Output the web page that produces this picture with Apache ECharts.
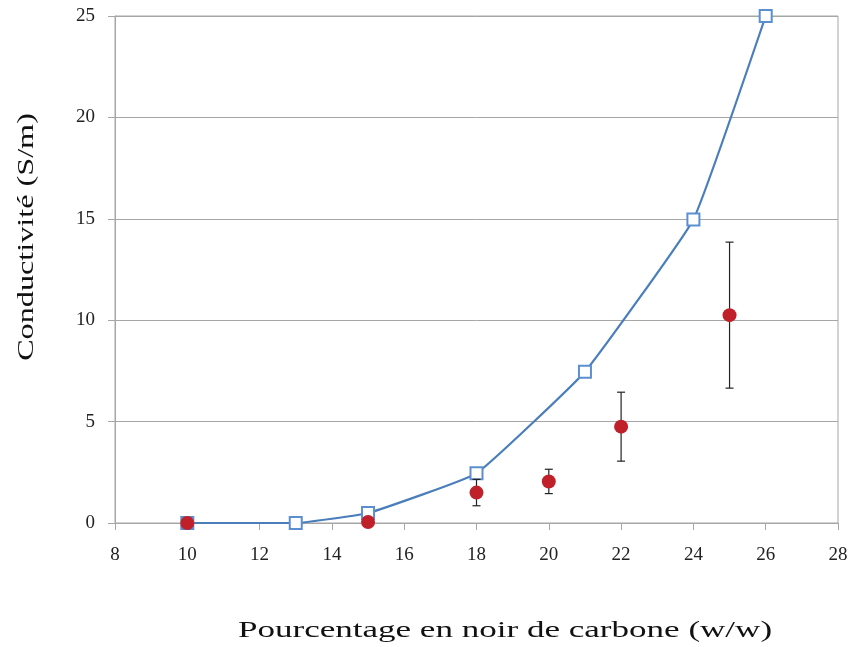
<!DOCTYPE html>
<html>
<head>
<meta charset="utf-8">
<script src="https://cdn.jsdelivr.net/npm/echarts@6/dist/echarts.min.js"></script>
<style>
  html, body { margin: 0; padding: 0; background: #fff; }
  #main { width: 852px; height: 647px; }
</style>
</head>
<body>
<div id="main"></div>
<script>
// modele (courbe bleue)
const modelX = [10, 13, 15, 18, 21, 24, 26];
const modelY = [0, 0, 0.49, 2.45, 7.46, 14.97, 25];
// mesures (points rouges) + ecart type
const measX = [10, 15, 18, 20, 22, 25];
const measY = [0, 0.05, 1.5, 2.05, 4.75, 10.25];
const measErr = [0, 0, 0.65, 0.6, 1.7, 3.6];

const xTicks = { min: 8, max: 28, step: 2 };
const yTicks = { min: 0, max: 25, step: 5 };

const serif = '"Liberation Serif", "DejaVu Serif", serif';

let myChart = echarts.init(document.getElementById('main'));

myChart.setOption({
  animation: false,
  grid: {
    left: 115, right: 14, top: 16, bottom: 124,
    show: true, borderColor: '#a6a6a6', borderWidth: 1
  },
  xAxis: {
    type: 'value',
    min: xTicks.min, max: xTicks.max, interval: xTicks.step,
    axisLine: { lineStyle: { color: '#a6a6a6' } },
    axisTick: { show: true, length: 7, lineStyle: { color: '#a6a6a6' } },
    splitLine: { show: false },
    axisLabel: { color: '#222', fontFamily: serif, fontSize: 19, margin: 23 }
  },
  yAxis: {
    type: 'value',
    min: yTicks.min, max: yTicks.max, interval: yTicks.step,
    axisLine: { show: true, lineStyle: { color: '#a6a6a6' } },
    axisTick: { show: true, length: 7, lineStyle: { color: '#a6a6a6' } },
    splitLine: { show: true, lineStyle: { color: '#a6a6a6', width: 1 } },
    axisLabel: { color: '#222', fontFamily: serif, fontSize: 19, margin: 20 }
  },
  graphic: [
    {
      type: 'text',
      x: 505, y: 631,
      scaleX: 1.46,
      style: {
        text: 'Pourcentage en noir de carbone (w/w)',
        font: '24px ' + serif, fill: '#111',
        align: 'center', verticalAlign: 'middle'
      }
    },
    {
      type: 'text',
      x: 27, y: 237,
      rotation: Math.PI / 2,
      scaleX: 1.4,
      style: {
        text: 'Conductivité (S/m)',
        font: '23px ' + serif, fill: '#111',
        align: 'center', verticalAlign: 'middle'
      }
    }
  ],
  series: [
    {
      type: 'line',
      data: modelX.map((x, i) => [x, modelY[i]]),
      smooth: 0.1,
      symbol: 'emptyRect',
      symbolSize: 12,
      showAllSymbol: true,
      lineStyle: { color: '#4a7ebb', width: 2.2 },
      itemStyle: { color: '#5b8fd0', borderColor: '#5b8fd0', borderWidth: 1.2 },
      z: 2
    },
    {
      type: 'custom',
      renderItem: function (params, api) {
        const x = api.value(0);
        const lo = api.coord([x, api.value(1)]);
        const hi = api.coord([x, api.value(2)]);
        const w = 4;
        return {
          type: 'group',
          children: [
            { type: 'line', shape: { x1: hi[0], y1: hi[1], x2: lo[0], y2: lo[1] }, style: { stroke: '#222', lineWidth: 1.2 } },
            { type: 'line', shape: { x1: hi[0] - w, y1: hi[1], x2: hi[0] + w, y2: hi[1] }, style: { stroke: '#222', lineWidth: 1.2 } },
            { type: 'line', shape: { x1: lo[0] - w, y1: lo[1], x2: lo[0] + w, y2: lo[1] }, style: { stroke: '#222', lineWidth: 1.2 } }
          ]
        };
      },
      data: measX.map((x, i) => [x, measY[i] - measErr[i], measY[i] + measErr[i]]).filter((d, i) => measErr[i] > 0),
      z: 3
    },
    {
      type: 'scatter',
      data: measX.map((x, i) => [x, measY[i]]),
      symbol: 'circle',
      symbolSize: 14,
      itemStyle: { color: '#c0202a', opacity: 1 },
      z: 4
    }
  ]
});
</script>
</body>
</html>
